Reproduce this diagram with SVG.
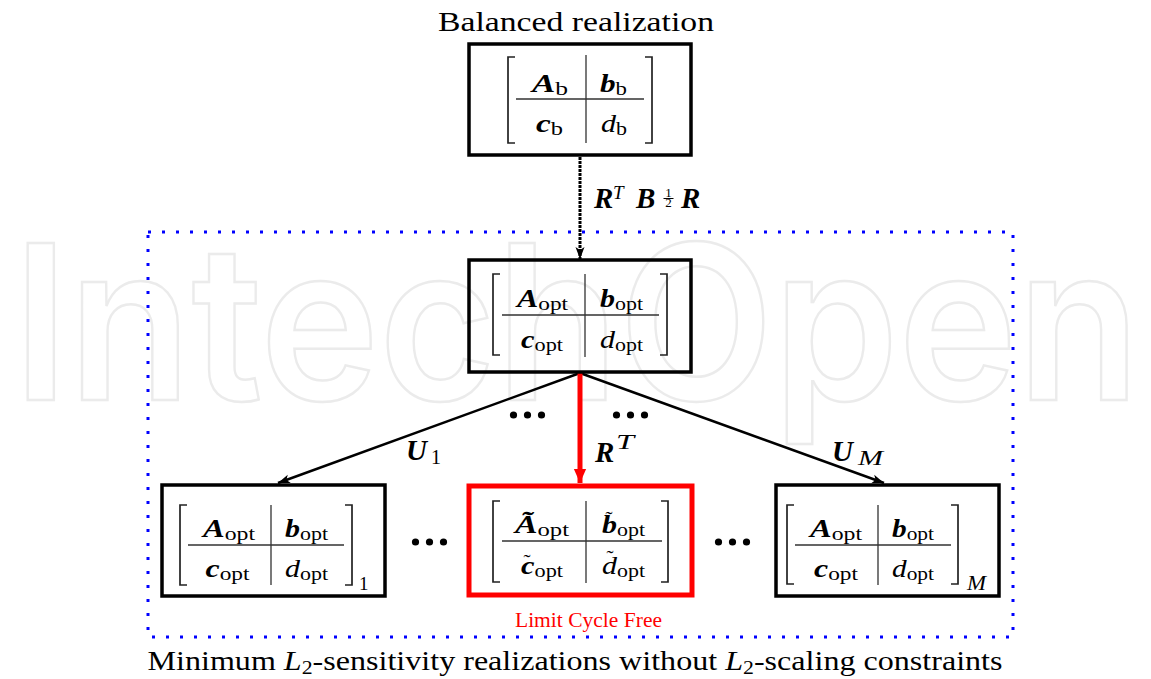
<svg xmlns="http://www.w3.org/2000/svg" width="1151" height="679" viewBox="0 0 1151 679">
<defs>
<style>
text{font-family:"Liberation Serif","Times New Roman",serif;fill:#000}
.bi{font-weight:bold;font-style:italic;font-size:26px}
.it{font-style:italic;font-size:26px}
.sb{font-weight:normal;font-style:normal;font-size:19px}
.box{fill:none;stroke:#000;stroke-width:3.5}
.rbox{fill:none;stroke:#ff0000;stroke-width:5}
.brk{fill:none;stroke:#222;stroke-width:1.7}
.div{fill:none;stroke:#333;stroke-width:1.3}
.wm{font-family:Inter,"Open Sans",sans-serif;font-weight:600;font-size:216px;fill:none;stroke:#ebebeb;stroke-width:2.5}
.lbl{font-weight:bold;font-style:italic;font-size:29px}
.blue{fill:none;stroke:#0000ff;stroke-width:3;stroke-dasharray:3 11}
.dot{fill:#000}
.tl{font-size:21px}
</style>
<marker id="ah" markerUnits="userSpaceOnUse" markerWidth="14" markerHeight="10" refX="12" refY="5" orient="auto">
<path d="M0,0.5 L12,5 L0,9.5 L3,5 Z" fill="#000"/>
</marker>
<marker id="ahr" markerUnits="userSpaceOnUse" markerWidth="14" markerHeight="14" refX="16" refY="7" orient="auto" viewBox="0 0 16 14">
<path d="M0,0 L16,7 L0,14 Z" fill="#ff0000"/>
</marker>
</defs>
<rect width="1151" height="679" fill="#fff"/>
<g id="watermark">
<text class="wm" x="13" y="400" textLength="1127" lengthAdjust="spacingAndGlyphs">IntechOpen</text>
</g>
<g id="region">
<rect class="blue" x="148" y="232" width="865" height="405"/>
<text x="575" y="670" font-size="28" text-anchor="middle" textLength="855" lengthAdjust="spacingAndGlyphs">Minimum <tspan font-style="italic">L</tspan><tspan font-size="19" dy="4">2</tspan><tspan dy="-4">-sensitivity realizations without </tspan><tspan font-style="italic">L</tspan><tspan font-size="19" dy="4">2</tspan><tspan dy="-4">-scaling constraints</tspan></text>
</g>
<g id="connectors">
<line x1="580" y1="157" x2="580" y2="259" stroke="#000" stroke-width="3" stroke-dasharray="3 1" marker-end="url(#ah)"/>
<line x1="580" y1="373" x2="278" y2="483" stroke="#000" stroke-width="2.5" marker-end="url(#ah)"/>
<line x1="580" y1="373" x2="884" y2="483" stroke="#000" stroke-width="2.5" marker-end="url(#ah)"/>
<line x1="580" y1="373" x2="580" y2="483" stroke="#ff0000" stroke-width="5" marker-end="url(#ahr)"/>
<text class="lbl" x="594" y="208">R</text>
<text x="613" y="199" font-style="italic" font-size="19">T</text>
<text class="lbl" x="636" y="208">B</text>
<text x="668.5" y="196.5" font-size="13" text-anchor="middle">1</text>
<line x1="663.5" y1="198.5" x2="673.5" y2="198.5" stroke="#000" stroke-width="1"/>
<text x="668.5" y="207" font-size="13" text-anchor="middle">2</text>
<text class="lbl" x="681" y="208">R</text>
<text class="lbl" x="406" y="460">U</text>
<text x="431" y="464" font-size="20">1</text>
<text class="lbl" x="595" y="462">R</text>
<text x="616" y="449" font-style="italic" font-size="21" textLength="18" lengthAdjust="spacingAndGlyphs">T</text>
<text class="lbl" x="832" y="461">U</text>
<text x="858" y="465" font-style="italic" font-size="22" textLength="25" lengthAdjust="spacingAndGlyphs">M</text>
<circle class="dot" cx="513.5" cy="415" r="3.6"/><circle class="dot" cx="527.5" cy="415" r="3.6"/><circle class="dot" cx="541.5" cy="415" r="3.6"/>
<circle class="dot" cx="616.5" cy="415" r="3.6"/><circle class="dot" cx="630.5" cy="415" r="3.6"/><circle class="dot" cx="644.5" cy="415" r="3.6"/>
<circle class="dot" cx="415.5" cy="542" r="3.6"/><circle class="dot" cx="429.5" cy="542" r="3.6"/><circle class="dot" cx="443.5" cy="542" r="3.6"/>
<circle class="dot" cx="718.5" cy="542" r="3.6"/><circle class="dot" cx="732.5" cy="542" r="3.6"/><circle class="dot" cx="746.5" cy="542" r="3.6"/>
</g>
<g id="balanced">
<text x="576" y="31" font-size="28" text-anchor="middle" textLength="276" lengthAdjust="spacingAndGlyphs">Balanced realization</text>
<rect class="box" x="469" y="44" width="222" height="111"/>
<path class="brk" d="M515,57 H508 V143 H515 M645,57 H652 V143 H645"/>
<path class="div" d="M586,55 V143 M516,99 H644"/>
<text x="550" y="92" text-anchor="middle" textLength="36" lengthAdjust="spacingAndGlyphs"><tspan class="bi">A</tspan><tspan class="sb" dy="3">b</tspan></text>
<text x="613.5" y="92" text-anchor="middle" textLength="27" lengthAdjust="spacingAndGlyphs"><tspan class="bi">b</tspan><tspan class="sb" dy="3">b</tspan></text>
<text x="549.5" y="132" text-anchor="middle" textLength="27" lengthAdjust="spacingAndGlyphs"><tspan class="bi">c</tspan><tspan class="sb" dy="3">b</tspan></text>
<text x="614" y="132" text-anchor="middle" textLength="26" lengthAdjust="spacingAndGlyphs"><tspan class="it">d</tspan><tspan class="sb" dy="3">b</tspan></text>
</g>
<g id="optimal">
<rect class="box" x="469" y="260" width="222" height="112"/>
<path class="brk" d="M500,274 H493 V355 H500 M660,274 H667 V355 H660"/>
<path class="div" d="M585,274 V357 M502,315 H659"/>
<text x="542.5" y="307" text-anchor="middle" textLength="51" lengthAdjust="spacingAndGlyphs"><tspan class="bi">A</tspan><tspan class="sb" dy="3">opt</tspan></text>
<text x="621.5" y="307" text-anchor="middle" textLength="43" lengthAdjust="spacingAndGlyphs"><tspan class="bi">b</tspan><tspan class="sb" dy="3">opt</tspan></text>
<text x="542" y="348" text-anchor="middle" textLength="42" lengthAdjust="spacingAndGlyphs"><tspan class="bi">c</tspan><tspan class="sb" dy="3">opt</tspan></text>
<text x="621.5" y="348" text-anchor="middle" textLength="43" lengthAdjust="spacingAndGlyphs"><tspan class="it">d</tspan><tspan class="sb" dy="3">opt</tspan></text>
</g>
<g id="realization-1">
<rect class="box" x="162" y="485" width="223" height="111"/>
<path class="brk" d="M187,505 H180 V585 H187 M345,505 H352 V585 H345"/>
<path class="div" d="M271,505 V585 M188,545 H344"/>
<text x="229" y="537" text-anchor="middle" textLength="52" lengthAdjust="spacingAndGlyphs"><tspan class="bi">A</tspan><tspan class="sb" dy="3">opt</tspan></text>
<text x="306.5" y="537" text-anchor="middle" textLength="43" lengthAdjust="spacingAndGlyphs"><tspan class="bi">b</tspan><tspan class="sb" dy="3">opt</tspan></text>
<text x="227.5" y="577" text-anchor="middle" textLength="44" lengthAdjust="spacingAndGlyphs"><tspan class="bi">c</tspan><tspan class="sb" dy="3">opt</tspan></text>
<text x="306.5" y="577" text-anchor="middle" textLength="43" lengthAdjust="spacingAndGlyphs"><tspan class="it">d</tspan><tspan class="sb" dy="3">opt</tspan></text>
<text x="359" y="590" font-size="19">1</text>
</g>
<g id="limit-cycle-free">
<rect class="rbox" x="469" y="486" width="223" height="109"/>
<path class="brk" d="M500,501 H493 V582 H500 M661,501 H668 V582 H661"/>
<path class="div" d="M586,501 V583 M502,541 H662"/>
<text x="542" y="533" text-anchor="middle" textLength="54" lengthAdjust="spacingAndGlyphs"><tspan class="bi">Ã</tspan><tspan class="sb" dy="3">opt</tspan></text>
<text x="623.5" y="533" text-anchor="middle" textLength="43" lengthAdjust="spacingAndGlyphs"><tspan class="bi">b</tspan><tspan class="sb" dy="3">opt</tspan></text>
<text class="tl" x="609" y="526" text-anchor="middle">˜</text>
<text x="542" y="574" text-anchor="middle" textLength="42" lengthAdjust="spacingAndGlyphs"><tspan class="bi">c</tspan><tspan class="sb" dy="3">opt</tspan></text>
<text class="tl" x="527" y="569" text-anchor="middle">˜</text>
<text x="623.5" y="574" text-anchor="middle" textLength="43" lengthAdjust="spacingAndGlyphs"><tspan class="it">d</tspan><tspan class="sb" dy="3">opt</tspan></text>
<text class="tl" x="610" y="565" text-anchor="middle">˜</text>
<text x="588.5" y="627" font-size="21" style="fill:#ff0000" text-anchor="middle" textLength="147" lengthAdjust="spacingAndGlyphs">Limit Cycle Free</text>
</g>
<g id="realization-M">
<rect class="box" x="776" y="485" width="223" height="111"/>
<path class="brk" d="M794,505 H787 V584 H794 M951,505 H958 V584 H951"/>
<path class="div" d="M878,505 V585 M795,545 H951"/>
<text x="836" y="537" text-anchor="middle" textLength="52" lengthAdjust="spacingAndGlyphs"><tspan class="bi">A</tspan><tspan class="sb" dy="3">opt</tspan></text>
<text x="913" y="537" text-anchor="middle" textLength="42" lengthAdjust="spacingAndGlyphs"><tspan class="bi">b</tspan><tspan class="sb" dy="3">opt</tspan></text>
<text x="836" y="577" text-anchor="middle" textLength="44" lengthAdjust="spacingAndGlyphs"><tspan class="bi">c</tspan><tspan class="sb" dy="3">opt</tspan></text>
<text x="913" y="577" text-anchor="middle" textLength="42" lengthAdjust="spacingAndGlyphs"><tspan class="it">d</tspan><tspan class="sb" dy="3">opt</tspan></text>
<text x="967" y="590" font-size="22" font-style="italic" textLength="19" lengthAdjust="spacingAndGlyphs">M</text>
</g>
</svg>
